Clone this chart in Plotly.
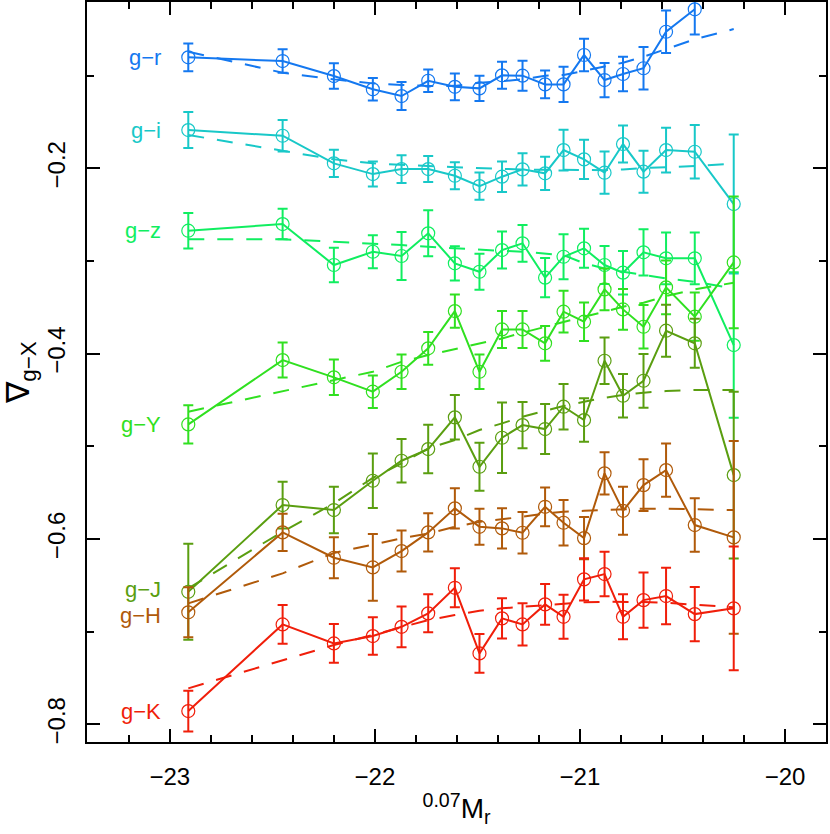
import plotly.graph_objects as go

# absolute magnitude bins (same for every colour)
mag = [-22.91, -22.45, -22.20, -22.01, -21.87, -21.74, -21.61, -21.49, -21.38, -21.28,
       -21.17, -21.08, -20.98, -20.88, -20.79, -20.69, -20.58, -20.44, -20.25]

names = ['g−r', 'g−i', 'g−z', 'g−Y', 'g−J', 'g−H', 'g−K']
colors = ['#1478f0', '#18c8c8', '#10ee60', '#30e020', '#5a9e10', '#b05a0a', '#f01e0a']

# measured gradients
gr = [-0.0802, -0.0842, -0.1004, -0.1147, -0.1220, -0.1055, -0.1120, -0.1137, -0.0996, -0.1000,
      -0.1094, -0.1094, -0.0777, -0.1047, -0.0982, -0.0920, -0.0526, -0.0284]
gi = [-0.1587, -0.1648, -0.1946, -0.2062, -0.2008, -0.2008, -0.2080, -0.2191, -0.2090, -0.2011,
      -0.2054, -0.1803, -0.1903, -0.2047, -0.1738, -0.2036, -0.1803, -0.1821, -0.2385]
gz = [-0.2673, -0.2601, -0.3043, -0.2900, -0.2946, -0.2701, -0.3025, -0.3116, -0.2882, -0.2809,
      -0.3180, -0.2954, -0.2863, -0.3043, -0.3126, -0.2906, -0.2971, -0.2971, -0.3907]
gY = [-0.4763, -0.4069, -0.4255, -0.4410, -0.4195, -0.3942, -0.3540, -0.4195, -0.3738, -0.3738,
      -0.3888, -0.3547, -0.3655, -0.3306, -0.3522, -0.3709, -0.3284, -0.3601, -0.3015]
gJ = [-0.6569, -0.5633, -0.5687, -0.5371, -0.5155, -0.5029, -0.4687, -0.5220, -0.4907, -0.4770,
      -0.4813, -0.4572, -0.4716, -0.4076, -0.4454, -0.4292, -0.3752, -0.3888, -0.5310]
gH = [-0.6791, -0.5928, -0.6202, -0.6306, -0.6130, -0.5928, -0.5669, -0.5868, -0.5885, -0.5932,
      -0.5652, -0.5824, -0.5990, -0.5291, -0.5695, -0.5418, -0.5256, -0.5849, -0.5982]
gK = [-0.7856, -0.6921, -0.7126, -0.7047, -0.6947, -0.6802, -0.6526, -0.7234, -0.6856, -0.6921,
      -0.6705, -0.6839, -0.6435, -0.6378, -0.6839, -0.6659, -0.6615, -0.6810, -0.6748]

# 1-sigma errors
gr_err = [0.0149, 0.0126, 0.0138, 0.0122, 0.0151, 0.0122, 0.0144, 0.0135, 0.0146, 0.0162,
          0.0150, 0.0189, 0.0176, 0.0185, 0.0185, 0.0230, 0.0228, 0.0273]
gi_err = [0.0194, 0.0170, 0.0147, 0.0135, 0.0149, 0.0140, 0.0146, 0.0147, 0.0165, 0.0175,
          0.0180, 0.0219, 0.0212, 0.0228, 0.0200, 0.0227, 0.0241, 0.0288, 0.0750]
gz_err = [0.0192, 0.0164, 0.0186, 0.0178, 0.0260, 0.0248, 0.0185, 0.0194, 0.0200, 0.0198,
          0.0212, 0.0243, 0.0210, 0.0205, 0.0234, 0.0250, 0.0280, 0.0280, 0.0785]
gY_err = [0.0207, 0.0189, 0.0192, 0.0176, 0.0185, 0.0176, 0.0180, 0.0185, 0.0200, 0.0200,
          0.0187, 0.0225, 0.0207, 0.0226, 0.0220, 0.0235, 0.0290, 0.0260, 0.0710]
gJ_err = [0.0517, 0.0252, 0.0250, 0.0293, 0.0234, 0.0262, 0.0240, 0.0260, 0.0380, 0.0250,
          0.0270, 0.0246, 0.0234, 0.0252, 0.0234, 0.0290, 0.0280, 0.0264, 0.0900]
gH_err = [0.0270, 0.0200, 0.0221, 0.0360, 0.0221, 0.0207, 0.0216, 0.0194, 0.0216, 0.0225,
          0.0209, 0.0246, 0.0227, 0.0227, 0.0260, 0.0280, 0.0288, 0.0288, 0.1040]
gK_err = [0.0220, 0.0210, 0.0210, 0.0202, 0.0220, 0.0205, 0.0210, 0.0210, 0.0216, 0.0229,
          0.0221, 0.0237, 0.0229, 0.0240, 0.0243, 0.0297, 0.0304, 0.0293, 0.0667]

# model curves (dashed)
gr_fit = [-0.0742, -0.0968, -0.1040, -0.1083, -0.1100, -0.1112, -0.1110, -0.1076, -0.1060, -0.1040,
          -0.1000, -0.0993, -0.0947, -0.0904, -0.0860, -0.0796, -0.0716, -0.0608, -0.0497]
gi_fit = [-0.1640, -0.1810, -0.1903, -0.1946, -0.1964, -0.1975, -0.1987, -0.2000, -0.2005, -0.2013,
          -0.2016, -0.2018, -0.2020, -0.2020, -0.2013, -0.1996, -0.1987, -0.1975, -0.1950]
gz_fit = [-0.2766, -0.2766, -0.2792, -0.2810, -0.2828, -0.2846, -0.2863, -0.2882, -0.2890, -0.2900,
          -0.2917, -0.2936, -0.3025, -0.3080, -0.3115, -0.3150, -0.3187, -0.3224, -0.3295]
gY_fit = [-0.4626, -0.4400, -0.4285, -0.4195, -0.4087, -0.4015, -0.3953, -0.3888, -0.3835, -0.3774,
          -0.3710, -0.3655, -0.3601, -0.3547, -0.3493, -0.3450, -0.3378, -0.3306, -0.3234]
gJ_fit = [-0.6532, -0.5920, -0.5615, -0.5340, -0.5183, -0.5022, -0.4932, -0.4824, -0.4752, -0.4680,
          -0.4616, -0.4565, -0.4519, -0.4475, -0.4446, -0.4421, -0.4403, -0.4392, -0.4392]
gH_fit = [-0.6694, -0.6370, -0.6150, -0.6060, -0.5993, -0.5940, -0.5868, -0.5814, -0.5789, -0.5760,
          -0.5723, -0.5705, -0.5695, -0.5687, -0.5680, -0.5673, -0.5673, -0.5680, -0.5687]
gK_fit = [-0.7611, -0.7306, -0.7144, -0.7036, -0.6953, -0.6874, -0.6820, -0.6774, -0.6748, -0.6730,
          -0.6709, -0.6694, -0.6683, -0.6677, -0.6677, -0.6680, -0.6688, -0.6712, -0.6737]

values = [gr, gi, gz, gY, gJ, gH, gK]
errors = [gr_err, gi_err, gz_err, gY_err, gJ_err, gH_err, gK_err]
fits = [gr_fit, gi_fit, gz_fit, gY_fit, gJ_fit, gH_fit, gK_fit]

# nudge the two crowded labels apart a little (pixels)
label_shift = {'g−J': 2, 'g−H': -3}

fig = go.Figure()

for name, c, y, e, f in zip(names, colors, values, errors, fits):
    fig.add_trace(go.Scatter(
        x=mag, y=f, mode='lines',
        line=dict(color=c, width=2, dash='16px,13px'),
        showlegend=False, hoverinfo='skip'
    ))
    fig.add_trace(go.Scatter(
        x=mag[:len(y)], y=y, mode='lines+markers',
        line=dict(color=c, width=2),
        marker=dict(symbol='circle-open', size=13, color=c, line=dict(width=1.2, color=c)),
        error_y=dict(type='data', array=e, color=c, thickness=2, width=5),
        name=name, showlegend=False
    ))
    # colour label at the left of each curve
    fig.add_annotation(
        x=-23.035, y=y[0], xref='x', yref='y', text=name,
        showarrow=False, xanchor='right', yanchor='middle',
        yshift=label_shift.get(name, 0),
        font=dict(family='Liberation Sans', size=22, color=c)
    )

axis_common = dict(
    showline=True, linecolor='black', linewidth=2, mirror='allticks',
    ticks='inside', tickcolor='black', tickwidth=1.5, ticklen=13,
    showgrid=False, zeroline=False, automargin=False,
    tickfont=dict(family='Liberation Sans', size=24, color='black'),
)

fig.update_xaxes(
    range=[-23.404, -19.8], dtick=1, tick0=0, ticklabelstandoff=12,
    minor=dict(ticks='inside', dtick=0.2, ticklen=7, tickcolor='black', tickwidth=1.5),
    title=dict(text='<sup>0.07</sup>M<sub>r</sub>', standoff=10,
               font=dict(family='Liberation Sans', size=28, color='black')),
    **axis_common
)
fig.update_yaxes(
    range=[-0.819, -0.0205], dtick=0.2, tick0=0, tickangle=-90, ticklabelstandoff=10,
    minor=dict(ticks='inside', dtick=0.1, ticklen=7, tickcolor='black', tickwidth=1.5),
    title=dict(text='∇<sub>g−X</sub>', standoff=6,
               font=dict(family='Liberation Sans', size=32, color='black')),
    **axis_common
)

fig.update_layout(
    width=830, height=834,
    margin=dict(l=87, r=4, t=2, b=92),
    plot_bgcolor='white', paper_bgcolor='white',
    template='simple_white'
)

# drop the page's default body margin so the figure sits at the window corner
fig.write_html("out.html", config={'displayModeBar': False},
               post_script="document.body.style.margin='0';")
